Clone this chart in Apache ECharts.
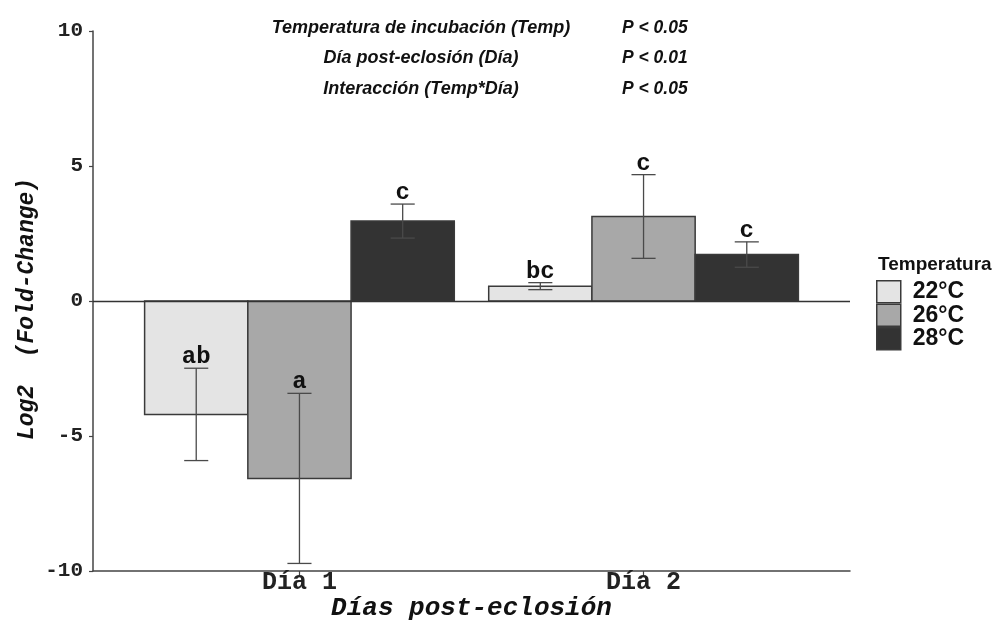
<!DOCTYPE html>
<html>
<head>
<meta charset="utf-8">
<title>Log2 (Fold-Change) por día post-eclosión y temperatura</title>
<script src="https://cdn.jsdelivr.net/npm/echarts@6/dist/echarts.min.js"></script>
<style>
  html, body { margin: 0; padding: 0; background: #ffffff; overflow: hidden; }
  #chart { width: 998px; height: 621px; }
</style>
</head>
<body>
<div id="chart"></div>
<script>
// Days post-hatching (x categories) and incubation temperatures (groups)
const categories = ['Día 1', 'Día 2'];
const temps = ['22°C', '26°C', '28°C'];

// Mean log2 fold-change and standard error per temperature, by day
const mean22 = [-4.20, 0.55];
const se22 = [1.71, 0.13];
const mean26 = [-6.57, 3.13];
const se26 = [3.15, 1.55];
const mean28 = [2.96, 1.72];
const se28 = [0.63, 0.47];

// Significance letters drawn above each error bar
const letters22 = ['ab', 'bc'];
const letters26 = ['a', 'c'];
const letters28 = ['c', 'c'];

// Y axis ticks
const yTicks = [-10, -5, 0, 5, 10];

// ANOVA summary printed at the top of the panel
const effectNames = ['Temperatura de incubación (Temp)', 'Día post-eclosión (Día)', 'Interacción (Temp*Día)'];
const effectP = ['P < 0.05', 'P < 0.01', 'P < 0.05'];

const groups = [
  { name: temps[0], mean: mean22, se: se22, letters: letters22, fill: '#e4e4e4' },
  { name: temps[1], mean: mean26, se: se26, letters: letters26, fill: '#a8a8a8' },
  { name: temps[2], mean: mean28, se: se28, letters: letters28, fill: '#333333' }
];

const MONO = "'Liberation Mono', 'DejaVu Sans Mono', monospace";
const SANS = "'Liberation Sans', Arial, sans-serif";
const dodge = 0.3;      // bar width in category units
const whisker = 0.07;   // error bar cap width in category units
const outline = '#3a3a3a';

function makeSeries(g, k) {
  const offset = (k - 1) * dodge;
  return {
    name: g.name,
    type: 'custom',
    itemStyle: { color: g.fill, borderColor: outline, borderWidth: 1.5 },
    data: categories.map((c, i) => [i + 1, g.mean[i], g.se[i]]),
    encode: { x: 0, y: 1 },
    clip: false,
    renderItem: function (params, api) {
      const cx = api.value(0) + offset;
      const m = api.value(1);
      const s = api.value(2);
      const p0 = api.coord([cx - dodge / 2, Math.max(m, 0)]);
      const p1 = api.coord([cx + dodge / 2, Math.min(m, 0)]);
      const top = api.coord([cx, m + s]);
      const bot = api.coord([cx, m - s]);
      const wl = api.coord([cx - whisker / 2, 0])[0];
      const wr = api.coord([cx + whisker / 2, 0])[0];
      const errStyle = { stroke: '#4a4a4a', lineWidth: 1.3, fill: null };
      return {
        type: 'group',
        children: [
          {
            type: 'rect',
            shape: { x: p0[0], y: p0[1], width: p1[0] - p0[0], height: p1[1] - p0[1] },
            style: { fill: g.fill, stroke: outline, lineWidth: 1.5 }
          },
          { type: 'line', shape: { x1: top[0], y1: top[1], x2: bot[0], y2: bot[1] }, style: errStyle },
          { type: 'line', shape: { x1: wl, y1: top[1], x2: wr, y2: top[1] }, style: errStyle },
          { type: 'line', shape: { x1: wl, y1: bot[1], x2: wr, y2: bot[1] }, style: errStyle },
          {
            type: 'text',
            x: top[0], y: top[1] + 1,
            style: {
              text: g.letters[params.dataIndex],
              font: 'bold 24px ' + MONO,
              fill: '#111111',
              align: 'center',
              verticalAlign: 'bottom'
            }
          }
        ]
      };
    }
  };
}

const series = groups.map(makeSeries);
// Horizontal reference line at zero across the panel
series[0].markLine = {
  silent: true,
  symbol: 'none',
  label: { show: false },
  lineStyle: { color: '#333333', width: 1.3, type: 'solid' },
  data: [{ yAxis: 0 }]
};

const graphics = [
  {
    type: 'text', left: 878, top: 255,
    style: { text: 'Temperatura', font: 'bold 19px ' + SANS, fill: '#111111' }
  }
];
effectNames.forEach((t, i) => {
  graphics.push({
    type: 'text', x: 421, y: 28 + i * 30.5,
    style: { text: t, font: 'italic bold 18px ' + SANS, fill: '#111111', align: 'center', verticalAlign: 'middle' }
  });
  graphics.push({
    type: 'text', x: 622, y: 28 + i * 30.5,
    style: { text: effectP[i], font: 'italic bold 17.5px ' + SANS, fill: '#111111', align: 'left', verticalAlign: 'middle' }
  });
});

const chart = echarts.init(document.getElementById('chart'), null, { renderer: 'canvas', width: 998, height: 621 });
chart.setOption({
  backgroundColor: '#ffffff',
  animation: false,
  grid: { left: 93, top: 31, width: 757, height: 540, containLabel: false, outerBoundsMode: 'none' },
  xAxis: {
    type: 'value',
    min: 0.4,
    max: 2.6,
    name: 'Días post-eclosión',
    nameLocation: 'middle',
    nameGap: 24,
    nameMoveOverlap: false,
    nameTextStyle: { fontFamily: MONO, fontWeight: 'bold', fontStyle: 'italic', fontSize: 26, color: '#111111' },
    axisLine: { show: true, onZero: false, lineStyle: { color: '#444444', width: 1.5 } },
    axisTick: { show: true, length: 4, customValues: [1, 2], lineStyle: { color: '#444444', width: 1.2 } },
    axisLabel: {
      show: true,
      customValues: [1, 2],
      margin: -1,
      fontFamily: MONO, fontWeight: 'bold', fontSize: 25, color: '#222222',
      formatter: v => categories[Math.round(v) - 1] || ''
    },
    splitLine: { show: false }
  },
  yAxis: {
    type: 'value',
    min: -10,
    max: 10,
    interval: 5,
    name: 'Log2  (Fold-Change)',
    nameLocation: 'middle',
    nameGap: 54,
    nameMoveOverlap: false,
    nameTextStyle: { fontFamily: MONO, fontWeight: 'bold', fontStyle: 'italic', fontSize: 23, color: '#111111', padding: [0, 16, 0, 0] },
    axisLine: { show: true, lineStyle: { color: '#444444', width: 1.5 } },
    axisTick: { show: true, length: 4, lineStyle: { color: '#444444', width: 1.2 } },
    axisLabel: {
      margin: 10,
      fontFamily: MONO, fontWeight: 'bold', fontSize: 21, color: '#222222',
      customValues: yTicks
    },
    splitLine: { show: false }
  },
  legend: {
    data: temps,
    orient: 'vertical',
    left: 876,
    top: 280,
    itemWidth: 24,
    itemHeight: 22,
    itemGap: 0,
    icon: 'rect',
    padding: 0,
    itemStyle: { borderColor: outline, borderWidth: 1.5 },
    textStyle: { fontFamily: SANS, fontWeight: 'bold', fontSize: 23, color: '#111111', padding: [0, 0, 0, 7] }
  },
  graphic: graphics,
  series: series
});
</script>
</body>
</html>
